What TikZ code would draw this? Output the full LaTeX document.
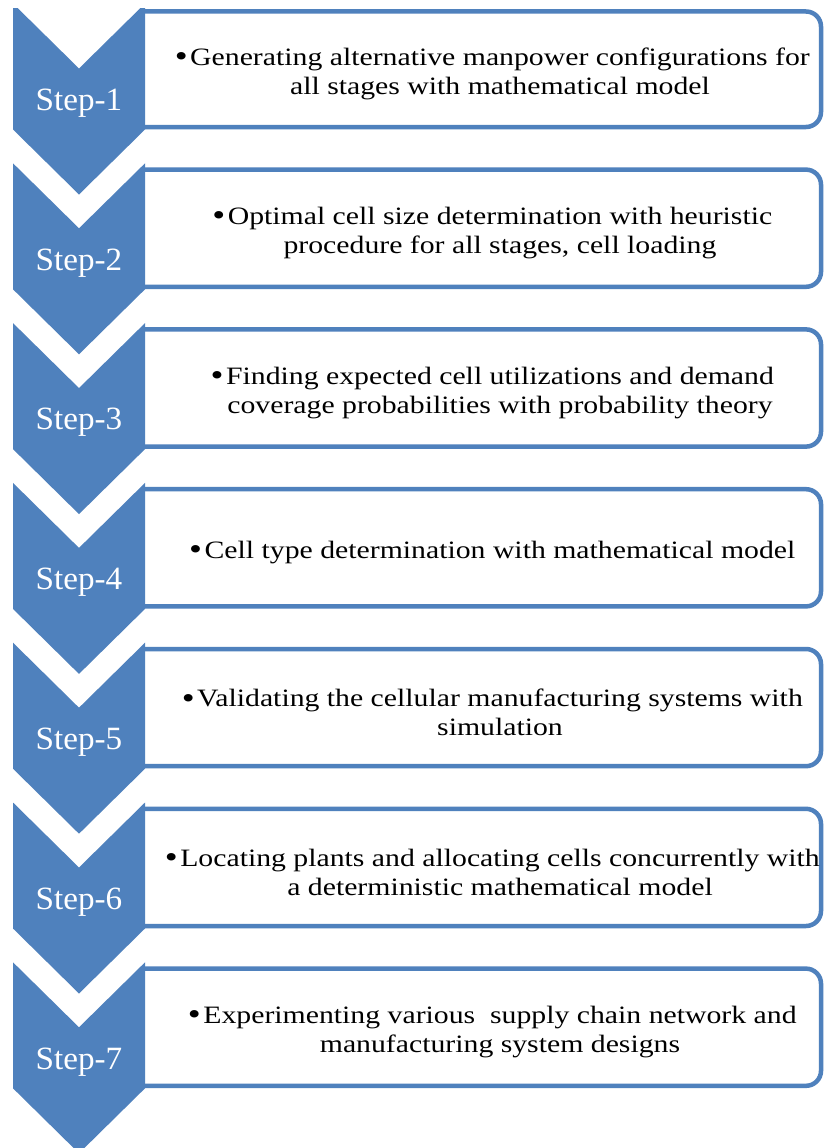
\documentclass[tikz,border=0pt]{standalone}
\usepackage{fontspec}
\newfontfamily\boxfont[FakeStretch=1.19]{Liberation Serif}
\newfontfamily\labelfont[FakeStretch=1.02]{Liberation Serif}
\definecolor{accent}{HTML}{4F81BD}
% bullet hanging to the left of the first line
\newcommand\hangbullet{\leavevmode\llap{\raisebox{-1.2pt}{\fontsize{31}{29}\selectfont •}\hspace{2.5pt}}}

\begin{document}
\begin{tikzpicture}[x=1pt,y=-1pt,
  chev/.style={fill=accent},
  frame/.style={draw=accent, line width=4.5pt, rounded corners=15pt},
  desc/.style={align=center, font=\boxfont\fontsize{25}{29}\selectfont, text=black, inner sep=0pt},
  steplabel/.style={font=\labelfont\fontsize{32.5}{34}\selectfont, text=white, inner sep=0pt}]

\useasboundingbox (0,0) rectangle (825,1148);
\fill[white] (0,0) rectangle (825,1148);

% chevrons, one per step (the top of the first one is cut off)
\begin{scope}
  \clip (0,9) rectangle (825,1148);
  \foreach \T in {3.5,163.3,323.1,482.9,642.7,802.5,962.3}{
    \fill[chev] (13,\T) -- (79,\T+65) -- (145,\T) -- (145,\T+126)
      -- (79,\T+191) -- (13,\T+126) -- cycle;
  }
\end{scope}

% description panels, open on the side of the chevron
\foreach \t/\b in {11.5/127, 169.6/286.8, 329.4/446.6, 489.2/606.4,
                   649/766.2, 808.8/926, 968.6/1085.8}{
  \draw[frame] (145,\t) -- (821,\t) -- (821,\b) -- (145,\b);
}

% step labels
\node[steplabel] (s1) at (79,103)   {Step-1};
\node[steplabel] (s2) at (79,262.8) {Step-2};
\node[steplabel] (s3) at (79,422.6) {Step-3};
\node[steplabel] (s4) at (79,582.4) {Step-4};
\node[steplabel] (s5) at (79,742.2) {Step-5};
\node[steplabel] (s6) at (79,902)   {Step-6};
\node[steplabel] (s7) at (79,1061.8){Step-7};

% descriptions
\node[desc] (d1) at (500,73.5) {\hangbullet Generating alternative manpower configurations for\\all stages with mathematical model};
\node[desc] (d2) at (500,233.3) {\hangbullet Optimal cell size determination with heuristic\\procedure for all stages, cell loading};
\node[desc] (d3) at (500,393.1) {\hangbullet Finding expected cell utilizations and demand\\coverage probabilities with probability theory};
\node[desc] (d4) at (500,552.4) {\hangbullet Cell type determination with mathematical model};
\node[desc] (d5) at (500,712.7) {\hangbullet Validating the cellular manufacturing systems with\\simulation};
\node[desc] (d6) at (500,872.5) {\hangbullet Locating plants and allocating cells concurrently with\\a deterministic mathematical model};
\node[desc] (d7) at (500,1032.3) {\hangbullet Experimenting various~ supply chain network and\\manufacturing system designs};
\end{tikzpicture}
\end{document}
